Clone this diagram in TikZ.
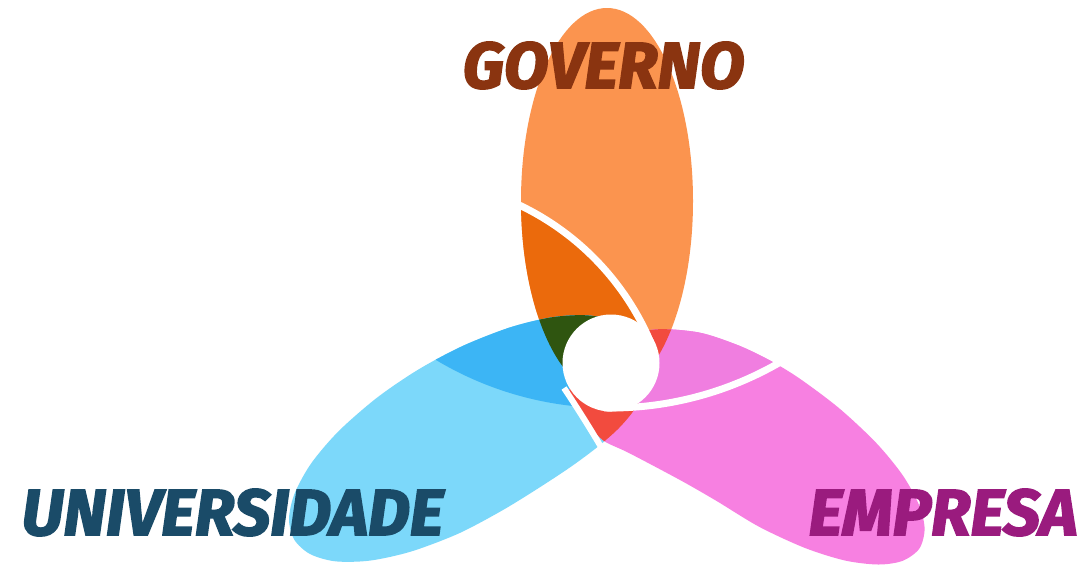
\documentclass[tikz,border=0pt]{standalone}
\usepackage{fontspec}
\newfontfamily\headfont{Fira Sans}[BoldItalicFeatures={FakeBold=2.6}]
\definecolor{lorange}{HTML}{FB944F}
\definecolor{dorange}{HTML}{EB6A0C}
\definecolor{dgreen}{HTML}{2F5510}
\definecolor{redlens}{HTML}{F24B3E}
\definecolor{lblue}{HTML}{7CD8FA}
\definecolor{dblue}{HTML}{3CB5F5}
\definecolor{lpink}{HTML}{F780E1}
\definecolor{upink}{HTML}{F07EE0}
\definecolor{govc}{HTML}{8A3410}
\definecolor{univc}{HTML}{1A4B68}
\definecolor{empc}{HTML}{9A1B7E}
\def\orangepath{(607,201) ellipse [x radius=86, y radius=193]}
\def\bluepath{plot[smooth cycle] coordinates {(632,336.8) (610.2,320) (584.1,315.2) (550.4,317.5) (509.7,327.5) (462.6,346) (418.4,369.5) (377,397.7) (338.7,431.1) (311.3,463.2) (294.6,493.5) (289,519.2) (294.3,539.7) (310,554) (335.2,561.3) (369.9,560.6) (411.1,551.5) (458.6,533.5) (502.8,510.1) (540.7,486.7) (572.1,465.9) (597.6,446.9) (617.3,429.7) (631.5,413.6) (640.7,398.3) (644.9,383.4) (644.8,368.6) (640.3,353.1)}}
\def\pinkpath{plot[smooth cycle] coordinates {(620.9,347.3) (650.6,330) (697.4,332.2) (737.2,344.9) (769.1,360) (799.1,378.2) (839.1,408.2) (876.1,442.8) (902.6,475.1) (918.8,504.5) (924.6,528.4) (919.4,548.5) (902.6,560.8) (878.4,564.5) (845,560.5) (805.1,548) (759.2,526.8) (716.3,500.8) (680,480) (629,453) (604,441) (590,426) (578,408) (568,393) (590,365)}}
\def\diskA{(404,447) circle [radius=268]}
\def\diskB{(610,69) circle [radius=339]}
\tikzset{
  whitearc/.style={draw=white, line width=7pt},
  label/.style={anchor=base, inner sep=0pt, font=\headfont\bfseries\itshape\fontsize{65}{68}\selectfont}
}
\begin{document}
\begin{tikzpicture}[x=1pt,y=-1pt]
\useasboundingbox (0,0) rectangle (1084,566);
\fill[white] (0,0) rectangle (1084,566);
% orange petal
\fill[lorange] \orangepath;
\begin{scope}
  \clip \orangepath; \clip \diskA;
  \fill[dorange] (0,0) rectangle (1084,566);
\end{scope}
% blue petal
\fill[lblue] \bluepath;
\begin{scope}
  \clip \bluepath; \clip \diskB;
  \fill[dblue] (0,0) rectangle (1084,566);
\end{scope}
% pink petal
\fill[lpink] \pinkpath;
\begin{scope}
  \clip \pinkpath; \clip \diskB;
  \fill[upink] (0,0) rectangle (1084,566);
\end{scope}
% overlaps
\begin{scope}
  \clip \orangepath; \clip \bluepath;
  \fill[dgreen] (0,0) rectangle (1084,566);
\end{scope}
\begin{scope}
  \clip \orangepath; \clip \pinkpath;
  \fill[redlens] (0,0) rectangle (1084,566);
\end{scope}
\begin{scope}
  \clip \bluepath; \clip \pinkpath;
  \fill[redlens] (0,0) rectangle (1084,566);
\end{scope}
% white arcs
\coordinate (cA) at (404,447);
\coordinate (cB) at (610,69);
\draw[whitearc] (cA) ++(-70:268) arc[start angle=-70, end angle=-23, radius=268];
\draw[whitearc] (cB) ++(52:339) arc[start angle=52, end angle=91, radius=339];
\coordinate (w1) at (564,388);
\coordinate (w2) at (604,452);
\draw[draw=white, line width=6pt] (w1) .. controls (576,406) and (590,428) .. (w2);
% centre
\node[circle, fill=white, minimum size=97pt, inner sep=0pt] (hub) at (611,363) {};
% labels
\node[label, text=govc] (gov) at (603.5,88) {GOVERNO};
\node[label, text=univc] (univ) at (232.5,535) {UNIVERSIDADE};
\node[label, text=empc] (emp) at (943,535) {EMPRESA};
\end{tikzpicture}
\end{document}
